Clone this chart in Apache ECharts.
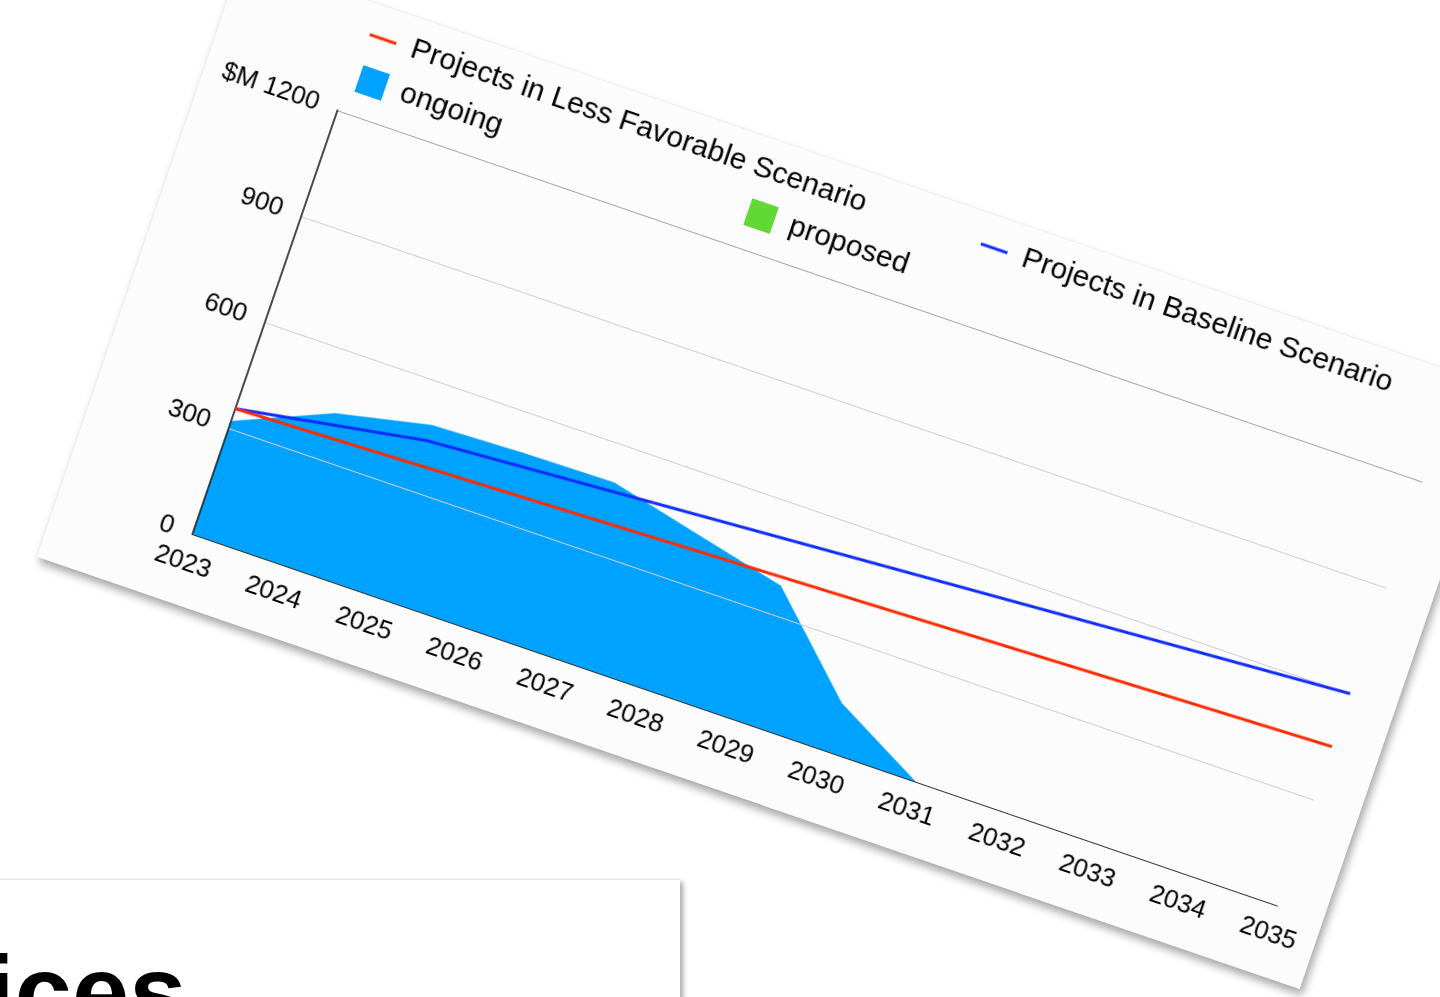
<!DOCTYPE html>
<html>
<head>
<meta charset="utf-8">
<title>Projects outlook</title>
<script src="https://cdn.jsdelivr.net/npm/echarts@6/dist/echarts.min.js"></script>
<style>
  html, body { margin: 0; padding: 0; width: 1440px; height: 997px; overflow: hidden; background: #ffffff; }
  #card {
    position: absolute;
    left: 242.4px; top: -42.8px;
    width: 1335px; height: 634px;
    transform-origin: 0 0;
    transform: rotate(18.9deg);
    background: #fcfcfc;
    box-shadow: 4px 5px 8px rgba(0,0,0,0.35), 0 0 1px rgba(0,0,0,0.12);
  }
  #chart { width: 1335px; height: 634px; }
  #slide {
    position: absolute;
    left: -20px; top: 880px;
    width: 700px; height: 200px;
    background: #ffffff;
    box-shadow: 3px 2px 5px rgba(0,0,0,0.35), 0 -1px 1px rgba(0,0,0,0.04);
    overflow: hidden;
  }
  #slide .title {
    position: absolute;
    left: 6px; top: 61px;
    font-family: "Liberation Sans", Helvetica, Arial, sans-serif;
    font-weight: bold;
    font-size: 103px;
    line-height: 1;
    color: #000;
    white-space: nowrap;
  }
</style>
</head>
<body>
<div id="card"><div id="chart"></div></div>
<div id="slide"><div class="title">ices</div></div>
<script>
// Years on the horizontal axis
const years = ['2023', '2024', '2025', '2026', '2027', '2028', '2029',
               '2030', '2031', '2032', '2033', '2034', '2035'];

// Spending, $M
const ongoing = [320, 430, 484, 493, 497, 438, 380, 135, 0, null, null, null, null];
const proposed = [];
// Scenario lines: only the break points are given, segments are straight
const baseline = [355, null, 440, null, null, null, null, null, null, null, null, null, 600];
const lessFavorable = [355, null, null, null, null, null, null, null, null, null, null, null, 450];

// Value axis range
const yMin = 0;
const yMax = 1200;
const yStep = 300;

const FONT = 'Helvetica, "Liberation Sans", Arial, sans-serif';

const chart = echarts.init(document.getElementById('chart'), null, { renderer: 'canvas' });

const legendText = { fontSize: 30, color: '#000', fontFamily: FONT, padding: [0, 0, 0, 11] };

chart.setOption({
  animation: false,
  textStyle: { fontFamily: FONT },
  grid: { left: 140, top: 114, width: 1147, height: 448, containLabel: false },
  legend: [
    { left: 141, top: 12, itemWidth: 28, itemHeight: 3, selectedMode: false,
      data: [{ name: 'Projects in Less Favorable Scenario', icon: 'rect' }], textStyle: legendText },
    { left: 787, top: 12, itemWidth: 28, itemHeight: 3, selectedMode: false,
      data: [{ name: 'Projects in Baseline Scenario', icon: 'rect' }], textStyle: legendText },
    { left: 145, top: 57, itemWidth: 28, itemHeight: 28, selectedMode: false,
      data: [{ name: 'ongoing', icon: 'rect' }], textStyle: legendText },
    { left: 556, top: 57, itemWidth: 28, itemHeight: 28, selectedMode: false,
      data: [{ name: 'proposed', icon: 'rect' }], textStyle: legendText }
  ],
  xAxis: {
    type: 'category',
    data: years,
    boundaryGap: false,
    z: 3,
    axisLine: { lineStyle: { color: '#333', width: 1 } },
    axisTick: { show: false },
    axisLabel: { interval: 0, fontSize: 26, color: '#000', margin: 17 },
    splitLine: { show: false }
  },
  yAxis: {
    type: 'value',
    min: yMin, max: yMax, interval: yStep,
    z: 3,
    axisLine: { show: true, lineStyle: { color: '#111', width: 1.5 } },
    axisTick: { show: false },
    axisLabel: {
      fontSize: 26, color: '#000', margin: 20,
      formatter: v => (v === yMax ? '$M ' + v : String(v))
    },
    splitLine: {
      show: true,
      lineStyle: { color: ['#cfcfcf', '#cfcfcf', '#cfcfcf', '#cfcfcf', '#a6a6a6'], width: 1 }
    }
  },
  series: [
    {
      name: 'ongoing', type: 'line', stack: 'projects', data: ongoing,
      symbol: 'none', z: 2,
      lineStyle: { width: 0 },
      itemStyle: { color: '#00A2FF' },
      areaStyle: { color: '#00A2FF', opacity: 1 }
    },
    {
      name: 'proposed', type: 'line', stack: 'projects', data: proposed,
      symbol: 'none', z: 2,
      lineStyle: { width: 0 },
      itemStyle: { color: '#61D836' },
      areaStyle: { color: '#61D836', opacity: 1 }
    },
    {
      name: 'Projects in Baseline Scenario', type: 'line', data: baseline,
      connectNulls: true, symbol: 'none', z: 5,
      itemStyle: { color: '#0F2BFF' },
      lineStyle: { color: '#0F2BFF', width: 3 }
    },
    {
      name: 'Projects in Less Favorable Scenario', type: 'line', data: lessFavorable,
      connectNulls: true, symbol: 'none', z: 6,
      itemStyle: { color: '#FF2A00' },
      lineStyle: { color: '#FF2A00', width: 3 }
    }
  ]
});
</script>
</body>
</html>
